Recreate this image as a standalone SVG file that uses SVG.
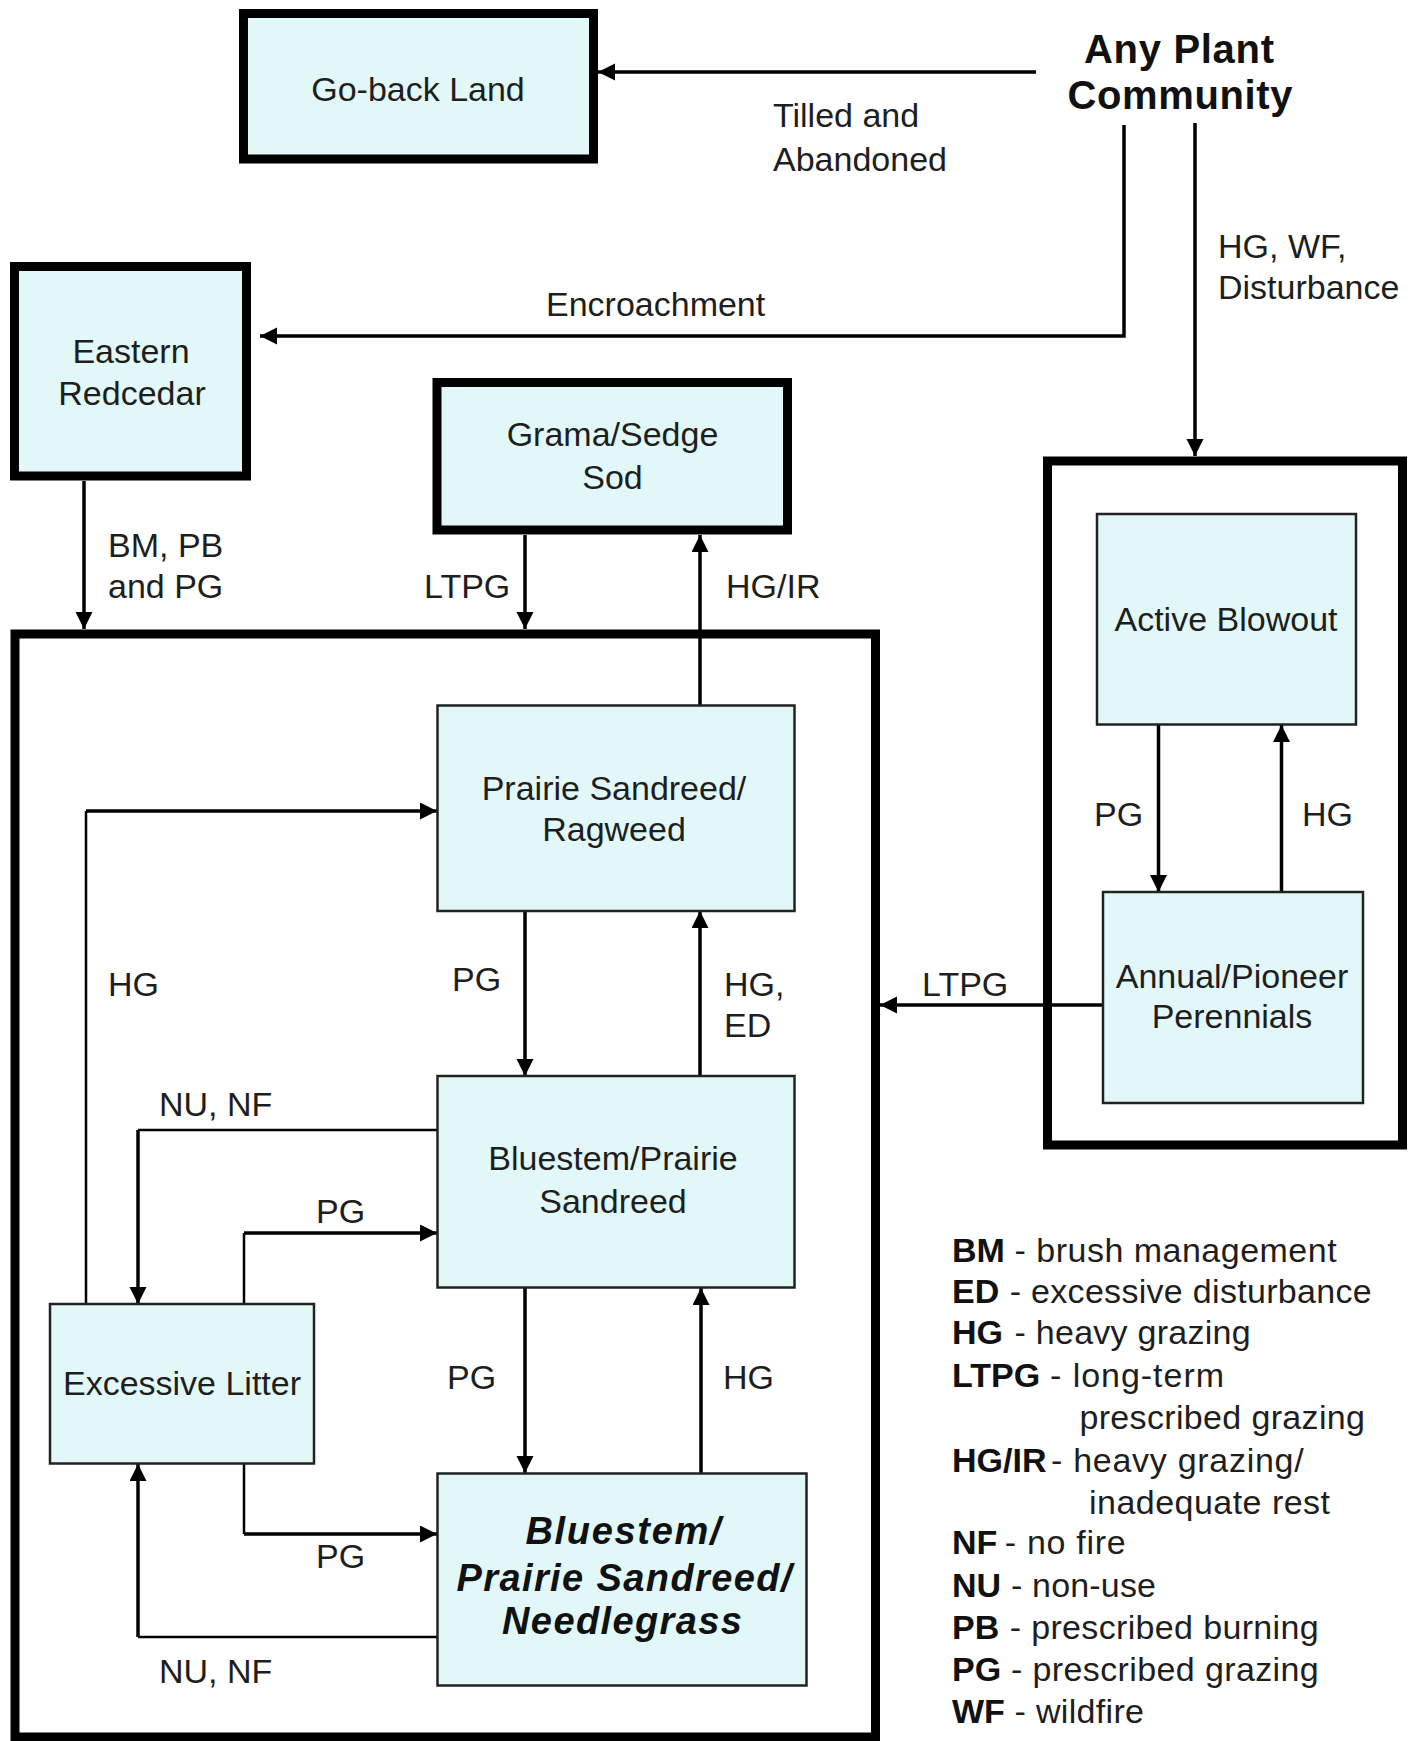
<svg xmlns="http://www.w3.org/2000/svg" width="1421" height="1741" viewBox="0 0 1421 1741">
<style>
.box{fill:#e2f8f8;stroke:#000;stroke-width:9}
.inner{fill:#e2f8f8;stroke:#222;stroke-width:2.5}
.cont{fill:none;stroke:#000;stroke-width:9}
text{font-family:"Liberation Sans",Arial,sans-serif;font-size:34px;fill:#1e1e1e}
.c{text-anchor:middle}
.b{font-weight:bold;fill:#111}
.bi{font-weight:bold;font-style:italic;fill:#111;font-size:38px}
.big{font-size:40px}
.conn path{fill:none;stroke:#000;stroke-width:3.5}
.conn path.thin{stroke-width:2.5}
</style>
<defs>
<marker id="ah" markerUnits="userSpaceOnUse" markerWidth="18" markerHeight="18" refX="17" refY="8.5" orient="auto">
<path d="M0,0 L17,8.5 L0,17 Z" fill="#000"/>
</marker>
</defs>
<rect width="1421" height="1741" fill="#fff"/>

<g id="containers">
<rect id="main-container" class="cont" x="15" y="634" width="860.5" height="1103"/>
<rect id="blowout-container" class="cont" x="1047.5" y="461" width="355" height="684"/>
</g>

<g id="connectors" class="conn">
<path d="M1036,72 H598" marker-end="url(#ah)"/>
<path d="M1124,125 V336 H260" marker-end="url(#ah)"/>
<path d="M1195,123 V456" marker-end="url(#ah)"/>
<path d="M84,481 V629" marker-end="url(#ah)"/>
<path d="M525,535 V629" marker-end="url(#ah)"/>
<path d="M700,705 V535" marker-end="url(#ah)"/>
<path class="thin" d="M86,1304 V811"/>
<path d="M86,811 H437" marker-end="url(#ah)"/>
<path d="M525,911 V1076" marker-end="url(#ah)"/>
<path d="M700,1076 V911" marker-end="url(#ah)"/>
<path class="thin" d="M437,1130 H138"/>
<path d="M138,1130 V1304" marker-end="url(#ah)"/>
<path class="thin" d="M244,1304 V1233"/>
<path d="M244,1233 H437" marker-end="url(#ah)"/>
<path d="M525,1288 V1473" marker-end="url(#ah)"/>
<path d="M701,1473 V1288" marker-end="url(#ah)"/>
<path class="thin" d="M244,1464 V1534"/>
<path d="M244,1534 H437" marker-end="url(#ah)"/>
<path class="thin" d="M437,1637 H138"/>
<path d="M138,1637 V1464" marker-end="url(#ah)"/>
<path d="M1103,1005 H880" marker-end="url(#ah)"/>
<path d="M1158.5,725 V892" marker-end="url(#ah)"/>
<path d="M1281.5,892 V725" marker-end="url(#ah)"/>
</g>

<g id="connector-labels">
<text x="773" y="127">Tilled and</text>
<text x="773" y="171">Abandoned</text>
<text x="546" y="316">Encroachment</text>
<text x="1218" y="258">HG, WF,</text>
<text x="1218" y="299">Disturbance</text>
<text x="108" y="557">BM, PB</text>
<text x="108" y="598">and PG</text>
<text x="424" y="598">LTPG</text>
<text x="726" y="598">HG/IR</text>
<text x="1094" y="826">PG</text>
<text x="1302" y="826">HG</text>
<text x="922" y="996">LTPG</text>
<text x="108" y="996">HG</text>
<text x="452" y="991">PG</text>
<text x="724" y="996">HG,</text>
<text x="724" y="1037">ED</text>
<text x="159" y="1116">NU, NF</text>
<text x="316" y="1223">PG</text>
<text x="447" y="1389">PG</text>
<text x="723" y="1389">HG</text>
<text x="316" y="1568">PG</text>
<text x="159" y="1683">NU, NF</text>
</g>

<g id="any-plant-community">
<text class="c b big" x="1179" y="63" textLength="190">Any Plant</text>
<text class="c b big" x="1180" y="109" textLength="225">Community</text>
</g>

<g id="go-back-land">
<rect class="box" x="243.5" y="13.5" width="350" height="145.5"/>
<text class="c" x="418" y="101">Go-back Land</text>
</g>

<g id="eastern-redcedar">
<rect class="box" x="14.5" y="266.5" width="232" height="209.5"/>
<text class="c" x="131" y="363">Eastern</text>
<text class="c" x="132" y="405">Redcedar</text>
</g>

<g id="grama-sedge-sod">
<rect class="box" x="437" y="382.5" width="350.5" height="147.5"/>
<text class="c" x="612.5" y="446">Grama/Sedge</text>
<text class="c" x="612.5" y="489">Sod</text>
</g>

<g id="active-blowout">
<rect class="inner" x="1097" y="514" width="259" height="210.5"/>
<text class="c" x="1226" y="631">Active Blowout</text>
</g>

<g id="annual-pioneer">
<rect class="inner" x="1103" y="892" width="260" height="211"/>
<text class="c" x="1232" y="988">Annual/Pioneer</text>
<text class="c" x="1232" y="1028">Perennials</text>
</g>

<g id="prairie-sandreed-ragweed">
<rect class="inner" x="437.5" y="705.5" width="357" height="205.5"/>
<text class="c" x="614" y="800">Prairie Sandreed/</text>
<text class="c" x="614" y="841">Ragweed</text>
</g>

<g id="bluestem-prairie-sandreed">
<rect class="inner" x="437.5" y="1076" width="357" height="211.5"/>
<text class="c" x="613" y="1170">Bluestem/Prairie</text>
<text class="c" x="613" y="1213">Sandreed</text>
</g>

<g id="excessive-litter">
<rect class="inner" x="50" y="1304" width="264" height="159.5"/>
<text class="c" x="182" y="1395">Excessive Litter</text>
</g>

<g id="bluestem-needlegrass">
<rect class="inner" x="437.5" y="1473.5" width="369" height="212"/>
<text class="c bi" x="623" y="1544" textLength="195">Bluestem/</text>
<text class="c bi" x="624" y="1591" textLength="335">Prairie Sandreed/</text>
<text class="c bi" x="622" y="1634" textLength="240">Needlegrass</text>
</g>

<g id="legend">
<text class="b" x="952" y="1262">BM</text><text x="1014.6" y="1262" textLength="322">- brush management</text>
<text class="b" x="952" y="1303">ED</text><text x="1009.7" y="1303" textLength="362">- excessive disturbance</text>
<text class="b" x="952" y="1344">HG</text><text x="1014.6" y="1344" textLength="236">- heavy grazing</text>
<text class="b" x="952" y="1387">LTPG</text><text x="1050" y="1387" textLength="174">- long-term</text>
<text x="1079.4" y="1429" textLength="285.6">prescribed grazing</text>
<text class="b" x="952" y="1472">HG/IR</text><text x="1051" y="1472" textLength="252.7">- heavy grazing/</text>
<text x="1089" y="1514" textLength="241">inadequate rest</text>
<text class="b" x="952" y="1554">NF</text><text x="1004.7" y="1554" textLength="121">- no fire</text>
<text class="b" x="952" y="1597">NU</text><text x="1011" y="1597" textLength="145">- non-use</text>
<text class="b" x="952" y="1639">PB</text><text x="1009.7" y="1639" textLength="309">- prescribed burning</text>
<text class="b" x="952" y="1681">PG</text><text x="1011" y="1681" textLength="307.7">- prescribed grazing</text>
<text class="b" x="952" y="1723">WF</text><text x="1014.6" y="1723" textLength="129.4">- wildfire</text>
</g>
</svg>
